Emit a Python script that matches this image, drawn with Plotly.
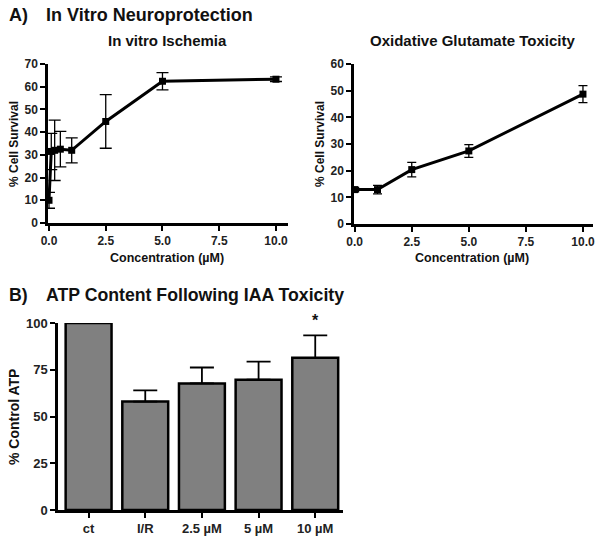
import plotly.graph_objects as go

# ---- Data ----
isch_conc = [0, 0.1, 0.25, 0.5, 1, 2.5, 5, 10]
isch_surv = [10, 31.5, 32, 32.5, 32, 44.7, 62.4, 63.3]
isch_err = [3.5, 8, 13.3, 7.8, 5.5, 11.8, 3.8, 1.0]

glut_conc = [0, 1, 2.5, 5, 10]
glut_surv = [12.9, 12.9, 20.4, 27.4, 48.7]
glut_err = [0.8, 1.6, 2.7, 2.4, 3.2]

atp_cats = ["ct", "I/R", "2.5 µM", "5 µM", "10 µM"]
atp_vals = [100, 58, 67.7, 69.7, 81.4]
atp_err = [0, 6, 8.5, 9.6, 12]

conc_ticks = [0, 2.5, 5, 7.5, 10]

W, H = 602, 542
FONT = "Liberation Sans, Arial, Helvetica, sans-serif"

def px(x):
    return x / W

def py(y):
    return 1 - y / H

fig = go.Figure()

fig.add_trace(go.Scatter(
    x=isch_conc, y=isch_surv, mode="lines+markers",
    line=dict(color="black", width=3),
    marker=dict(symbol="square", size=7, color="black"),
    error_y=dict(type="data", array=isch_err, color="black", thickness=1.3, width=6),
    xaxis="x", yaxis="y", cliponaxis=False, showlegend=False))

fig.add_trace(go.Scatter(
    x=glut_conc, y=glut_surv, mode="lines+markers",
    line=dict(color="black", width=3),
    marker=dict(symbol="square", size=7, color="black"),
    error_y=dict(type="data", array=glut_err, color="black", thickness=1.3, width=4.5),
    xaxis="x2", yaxis="y2", cliponaxis=False, showlegend=False))

fig.add_trace(go.Bar(
    x=list(range(len(atp_cats))), y=atp_vals, width=0.81,
    marker=dict(color="#808080", line=dict(color="black", width=2.5)),
    error_y=dict(type="data", symmetric=False, array=atp_err,
                 arrayminus=[0] * len(atp_err), color="black", thickness=1.8, width=12),
    xaxis="x3", yaxis="y3", cliponaxis=False, showlegend=False))

axis_common = dict(
    showline=True, linecolor="black", linewidth=2.5, showgrid=False, zeroline=False,
    ticks="outside", ticklen=5, tickwidth=2, tickcolor="black", automargin=False,
    tickfont=dict(family=FONT, size=12, color="#222", weight="bold"),
)
big_tick = {**axis_common, "tickfont": dict(family=FONT, size=13, color="#222", weight="bold")}

fig.update_layout(
    template="none",
    width=W, height=H,
    margin=dict(l=0, r=0, t=0, b=0, autoexpand=False),
    paper_bgcolor="white", plot_bgcolor="white",
    xaxis=dict(domain=[px(48), px(288)], range=[-0.044, 10.53],
               tickvals=conc_ticks, tickformat=".1f", anchor="y", **axis_common),
    yaxis=dict(domain=[py(223), py(64)], range=[0, 70], dtick=10,
               anchor="x", **axis_common),
    xaxis2=dict(domain=[px(354), px(593)], range=[-0.03, 10.44],
                tickvals=conc_ticks, tickformat=".1f", anchor="y2", **axis_common),
    yaxis2=dict(domain=[py(224), py(64)], range=[0, 60], dtick=10,
                anchor="x2", **axis_common),
    xaxis3=dict(domain=[px(58), px(343)], range=[-0.54, 4.49],
                tickvals=list(range(len(atp_cats))), ticktext=atp_cats,
                anchor="y3", **big_tick),
    yaxis3=dict(domain=[py(510), py(323)], range=[0, 100], dtick=25,
                anchor="x3", **big_tick),
)

def ann(text, x, y, size, xanchor="center", yanchor="middle", angle=0):
    fig.add_annotation(text=text, x=x, y=y, xref="paper", yref="paper",
                       xanchor=xanchor, yanchor=yanchor, showarrow=False, textangle=angle,
                       font=dict(family=FONT, size=size, color="#111", weight="bold"))

ann("A)", px(7), py(15), 18, xanchor="left")
ann("In Vitro Neuroprotection", px(44), py(15), 18, xanchor="left")
ann("B)", px(7), py(295), 17.7, xanchor="left")
ann("ATP Content Following IAA Toxicity", px(44), py(295), 17.7, xanchor="left")

ann("In vitro Ischemia", px(167), py(41), 15)
ann("Oxidative Glutamate Toxicity", px(472), py(41), 15)

ann("Concentration (µM)", px(167), py(258), 12.5)
ann("Concentration (µM)", px(472), py(258), 12.5)
ann("% Cell Survival", px(14), py(144), 12, angle=-90)
ann("% Cell Survival", px(320), py(144), 12, angle=-90)
ann("% Control ATP", px(14), py(417), 14, angle=-90)

fig.add_annotation(text="*", x=4, y=atp_vals[4] + atp_err[4], xref="x3", yref="y3",
                   yanchor="bottom", yshift=4, showarrow=False,
                   font=dict(family=FONT, size=16, color="#111", weight="bold"))

fig.write_html("out.html", config={"displayModeBar": False},
               post_script="document.body.style.margin='0';")
